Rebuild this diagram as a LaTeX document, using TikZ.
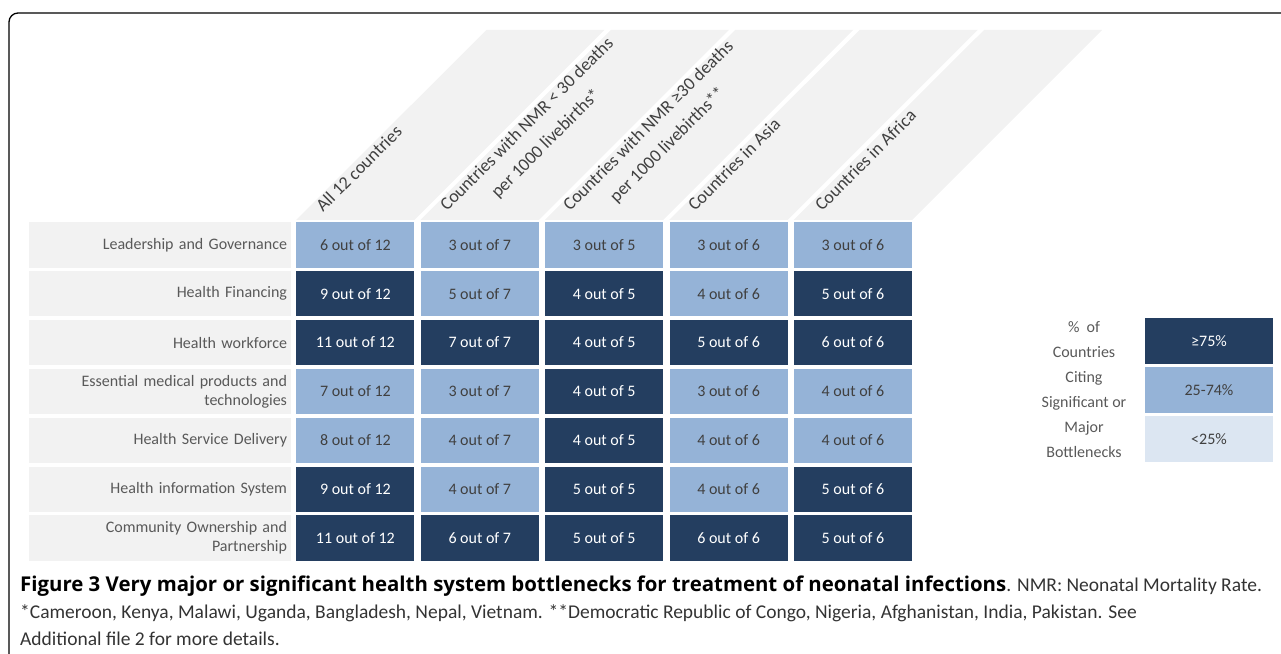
\documentclass[tikz,border=0pt]{standalone}
\usepackage{fontspec}
\setmainfont{Carlito}
\newfontfamily\capbold{Open Sans}
\usetikzlibrary{positioning}
\definecolor{darkblue}{RGB}{36,62,96}
\definecolor{midblue}{RGB}{149,179,215}
\definecolor{paleblue}{RGB}{220,230,242}
\definecolor{bandgray}{RGB}{242,242,242}
\definecolor{textgray}{RGB}{89,89,89}

\begin{document}
\begin{tikzpicture}[x=1pt,y=-1pt,node distance=6pt,
  cell/.style={minimum width=118pt,minimum height=45.5pt,inner sep=0pt,font=\fontsize{16}{19}\selectfont},
  dark node/.style={cell,fill=darkblue,text=white},
  light node/.style={cell,fill=midblue,text=black!75},
  label node/.style={fill=bandgray,minimum width=262pt,minimum height=45.5pt,inner sep=4pt,
    text width=254pt,align=right,text=textgray,font=\fontsize{16}{19}\selectfont},
  head node/.style={rotate=45,anchor=base west,text=black!75,font=\fontsize{18}{27}\selectfont,inner sep=0pt},
  band/.style={fill=bandgray}]
  \useasboundingbox (0,0) rectangle (1281,653);
  \draw[line width=1.3pt,rounded corners=9pt] (9,13) rectangle (1300,680);

  \node[label node] (l1) at (160,244.75) {Leadership and Governance};
  \node[label node] (l2) [below=3pt of l1] {Health Financing};
  \node[label node] (l3) [below=3pt of l2] {Health workforce};
  \node[label node] (l4) [below=3pt of l3] {Essential medical products and\\technologies};
  \node[label node] (l5) [below=3pt of l4] {Health Service Delivery};
  \node[label node] (l6) [below=3pt of l5] {Health information System};
  \node[label node] (l7) [below=3pt of l6] {Community Ownership and\\Partnership};

  \node[light node] (c11) [right=5pt of l1] {6 out of 12};
  \node[light node] (c12) [right=of c11] {3 out of 7};
  \node[light node] (c13) [right=of c12] {3 out of 5};
  \node[light node] (c14) [right=of c13] {3 out of 6};
  \node[light node] (c15) [right=of c14] {3 out of 6};

  \node[dark node] (c21) [right=5pt of l2] {9 out of 12};
  \node[light node] (c22) [right=of c21] {5 out of 7};
  \node[dark node] (c23) [right=of c22] {4 out of 5};
  \node[light node] (c24) [right=of c23] {4 out of 6};
  \node[dark node] (c25) [right=of c24] {5 out of 6};

  \node[dark node] (c31) [right=5pt of l3] {11 out of 12};
  \node[dark node] (c32) [right=of c31] {7 out of 7};
  \node[dark node] (c33) [right=of c32] {4 out of 5};
  \node[dark node] (c34) [right=of c33] {5 out of 6};
  \node[dark node] (c35) [right=of c34] {6 out of 6};

  \node[light node] (c41) [right=5pt of l4] {7 out of 12};
  \node[light node] (c42) [right=of c41] {3 out of 7};
  \node[dark node] (c43) [right=of c42] {4 out of 5};
  \node[light node] (c44) [right=of c43] {3 out of 6};
  \node[light node] (c45) [right=of c44] {4 out of 6};

  \node[light node] (c51) [right=5pt of l5] {8 out of 12};
  \node[light node] (c52) [right=of c51] {4 out of 7};
  \node[dark node] (c53) [right=of c52] {4 out of 5};
  \node[light node] (c54) [right=of c53] {4 out of 6};
  \node[light node] (c55) [right=of c54] {4 out of 6};

  \node[dark node] (c61) [right=5pt of l6] {9 out of 12};
  \node[light node] (c62) [right=of c61] {4 out of 7};
  \node[dark node] (c63) [right=of c62] {5 out of 5};
  \node[light node] (c64) [right=of c63] {4 out of 6};
  \node[dark node] (c65) [right=of c64] {5 out of 6};

  \node[dark node] (c71) [right=5pt of l7] {11 out of 12};
  \node[dark node] (c72) [right=of c71] {6 out of 7};
  \node[dark node] (c73) [right=of c72] {5 out of 5};
  \node[dark node] (c74) [right=of c73] {6 out of 6};
  \node[dark node] (c75) [right=of c74] {5 out of 6};

  \fill[band] ([yshift=2pt]c11.north west) -- ([yshift=2pt]c11.north east) -- ++(190,-190) -- ++(-118,0) -- cycle;
  \fill[band] ([yshift=2pt]c12.north west) -- ([yshift=2pt]c12.north east) -- ++(190,-190) -- ++(-118,0) -- cycle;
  \fill[band] ([yshift=2pt]c13.north west) -- ([yshift=2pt]c13.north east) -- ++(190,-190) -- ++(-118,0) -- cycle;
  \fill[band] ([yshift=2pt]c14.north west) -- ([yshift=2pt]c14.north east) -- ++(190,-190) -- ++(-118,0) -- cycle;
  \fill[band] ([yshift=2pt]c15.north west) -- ([yshift=2pt]c15.north east) -- ++(190,-190) -- ++(-118,0) -- cycle;

  \node[head node] (h1) at (323,213) {All 12 countries};
  \node[head node,align=center] (h2) at (466,231) {Countries with NMR < 30 deaths\\per 1000 livebirths*};
  \node[head node,align=center] (h3) at (589,231) {Countries with NMR ≥30 deaths\\per 1000 livebirths**};
  \node[head node] (h4) at (695,212) {Countries in Asia};
  \node[head node] (h5) at (822,212) {Countries in Africa};

  \node[align=center,text=textgray,font=\fontsize{16}{25}\selectfont] (lg) at (1084,390) {\%\ \ of\\Countries\\Citing\\Significant or\\Major\\Bottlenecks};
  \node[dark node,minimum width=128pt,minimum height=46pt] (k1) at (1209,341) {≥75\%};
  \node[light node,minimum width=128pt,minimum height=46pt] (k2) [below=3pt of k1] {25-74\%};
  \node[cell,fill=paleblue,text=black!75,minimum width=128pt,minimum height=46pt] (k3) [below=2pt of k2] {<25\%};

  \node[anchor=north west,align=left,inner sep=0pt,text=black!80,font=\fontsize{19.5}{27}\selectfont] (cap) at (20,576)
    {{\color{black}\capbold\bfseries\fontsize{20.4}{27}\selectfont Figure 3 Very major or significant health system bottlenecks for treatment of neonatal infections}. NMR: Neonatal Mortality Rate.\\{}*Cameroon, Kenya, Malawi, Uganda, Bangladesh, Nepal, Vietnam. **Democratic Republic of Congo, Nigeria, Afghanistan, India, Pakistan. See\\Additional file 2 for more details.};
\end{tikzpicture}
\end{document}
